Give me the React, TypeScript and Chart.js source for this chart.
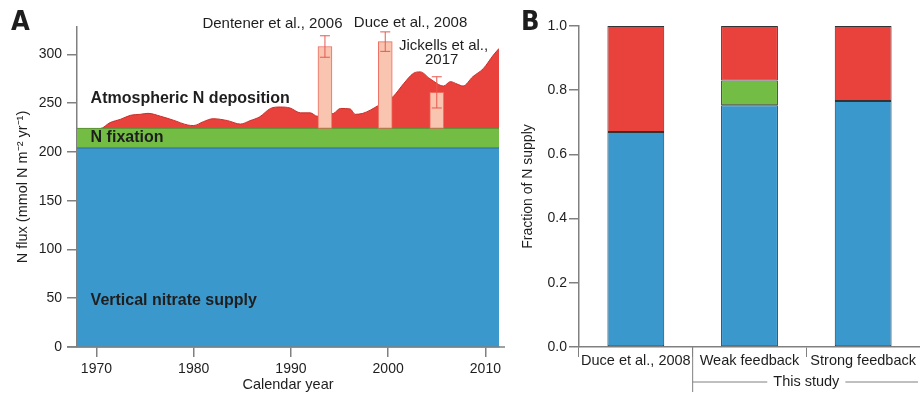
import React, { useEffect, useRef } from 'react';
import { Chart, registerables } from 'chart.js';
Chart.register(...registerables);

const FONT = '"Liberation Sans", Arial, Helvetica, sans-serif';
const LETTER_FONT = '"Liberation Sans Narrow", "DejaVu Sans Condensed", "Liberation Sans", sans-serif';

// ---------- Panel A data ----------
const deposYears = [1968, 1970.4, 1971.4, 1972.5, 1973.5, 1974.5, 1975.3, 1976.6, 1977.9, 1979.4,
  1980, 1981, 1982, 1983.5, 1984.8, 1985.8, 1986.8, 1987.9, 1988.9, 1989.9,
  1991, 1992, 1992.7, 1993.5, 1994.4, 1995.1, 1996.1, 1996.6, 1997.4, 1998.2,
  1998.9, 1999.7, 2000.5, 2001.6, 2002.6, 2003.3, 2004.3, 2005.7, 2006.4, 2007.1,
  2007.7, 2008.7, 2009.8, 2010.8, 2011.4];
const deposFlux = [224, 224, 230, 233.5, 237.5, 238.5, 239.5, 236.5, 232.5, 227.5,
  227, 231, 234, 232, 228.5, 232, 236, 244.5, 246, 245,
  240, 240, 236.5, 238, 239.5, 244.5, 244, 238.5, 239.5, 243,
  247, 251, 256.5, 270, 280.5, 282, 275, 267.5, 272, 269.5,
  267.5, 277, 285.5, 299, 306];
const baseYears = [1968, 2011.4];
const verticalSupply = [204, 204];
const fixationTop = [224, 224];
const estimateLabels = ['Dentener et al., 2006', 'Duce et al., 2008', 'Jickells et al., 2017'];
const estimateYears = [1993.5, 1999.7, 2005.0];
const estimateFlux = [308, 313, 261];
const estimateErr = [11, 10, 16];
const xTickStepA = 10;
const yTickStepA = 50;

// ---------- Panel B data ----------
const supplyCategories = ['Duce et al., 2008', 'Weak feedback', 'Strong feedback'];
const fracVertical = [0.67, 0.753, 0.766];
const fracFixation = [0, 0.077, 0];
const fracAtmos = [0.33, 0.17, 0.234];
const yTickStepB = 0.2;

const BLUE = '#3b98cd';
const GREEN = '#73bd44';
const RED = '#e9413c';
const PINK = '#f9c5b1';
const AXIS = '#808080';
const TEXT = '#1e1e1e';

export default function App() {
  const refA = useRef<HTMLCanvasElement>(null);
  const refB = useRef<HTMLCanvasElement>(null);

  useEffect(() => {
    document.body.style.margin = '0';
    Chart.defaults.font.family = FONT;
    Chart.defaults.color = TEXT;

    const pluginA = {
      id: 'annotA',
      afterDraw(chart: any) {
        const { ctx, chartArea } = chart;
        const xs = chart.scales.x;
        const ys = chart.scales.y;
        ctx.save();
        // extend x axis line
        ctx.strokeStyle = AXIS;
        ctx.lineWidth = 1.5;
        ctx.beginPath();
        ctx.moveTo(chartArea.left - 10, chartArea.bottom);
        ctx.lineTo(chartArea.right + 6, chartArea.bottom);
        ctx.stroke();
        // error bars
        ctx.strokeStyle = '#e8574d';
        ctx.lineWidth = 1;
        estimateYears.forEach((yr, i) => {
          const x = xs.getPixelForValue(yr);
          const y1 = ys.getPixelForValue(estimateFlux[i] + estimateErr[i]);
          const y2 = ys.getPixelForValue(estimateFlux[i] - estimateErr[i]);
          ctx.beginPath();
          ctx.moveTo(x, y1); ctx.lineTo(x, y2);
          ctx.moveTo(x - 5, y1); ctx.lineTo(x + 5, y1);
          ctx.moveTo(x - 5, y2); ctx.lineTo(x + 5, y2);
          ctx.stroke();
        });
        // estimate labels
        ctx.fillStyle = TEXT;
        ctx.font = '15px ' + FONT;
        ctx.textAlign = 'center';
        ctx.textBaseline = 'middle';
        ctx.fillText(estimateLabels[0], xs.getPixelForValue(1988.1), ys.getPixelForValue(331));
        ctx.fillText(estimateLabels[1], xs.getPixelForValue(2002.3), ys.getPixelForValue(332));
        const jk = estimateLabels[2].split(', ');
        ctx.fillText(jk[0] + ',', xs.getPixelForValue(2005.7), ys.getPixelForValue(309));
        ctx.fillText(jk[1], xs.getPixelForValue(2005.5), ys.getPixelForValue(294));
        // component labels
        ctx.font = 'bold 16px ' + FONT;
        ctx.textAlign = 'left';
        const lx = xs.getPixelForValue(1969.4);
        ctx.fillText('Atmospheric N deposition', lx, ys.getPixelForValue(255));
        ctx.fillText('N fixation', lx, ys.getPixelForValue(215));
        ctx.fillText('Vertical nitrate supply', lx, ys.getPixelForValue(48));
        // panel letter
        ctx.font = 'bold 27px ' + LETTER_FONT;
        ctx.fillText('A', 11, 23);
        ctx.restore();
      },
    };

    const a = new Chart(refA.current!, {
      type: 'line',
      data: {
        datasets: [
          {
            type: 'bar',
            label: 'Estimates',
            data: estimateYears.map((x, i) => ({ x, y: [fixationTop[0], estimateFlux[i]] })) as any,
            backgroundColor: PINK,
            borderColor: '#ec6a5e',
            borderWidth: 1,
            borderSkipped: false,
            barThickness: 14,
            order: 0,
          } as any,
          {
            label: 'Vertical nitrate supply',
            data: baseYears.map((x, i) => ({ x, y: verticalSupply[i] })),
            backgroundColor: BLUE,
            borderColor: '#2c6f99',
            borderWidth: 1,
            fill: 'origin',
            pointRadius: 0,
            order: 1,
          },
          {
            label: 'N fixation',
            data: baseYears.map((x, i) => ({ x, y: fixationTop[i] })),
            backgroundColor: GREEN,
            borderColor: '#5a9a36',
            borderWidth: 1,
            fill: 'origin',
            pointRadius: 0,
            order: 2,
          },
          {
            label: 'Atmospheric N deposition',
            data: deposYears.map((x, i) => ({ x, y: deposFlux[i] })),
            backgroundColor: RED,
            borderColor: '#c9302a',
            borderWidth: 1,
            fill: 'origin',
            pointRadius: 0,
            cubicInterpolationMode: 'monotone',
            order: 3,
          },
        ],
      },
      options: {
        animation: false,
        responsive: false,
        layout: { padding: { left: 10, top: 27, right: 21, bottom: 0 } },
        plugins: { legend: { display: false }, tooltip: { enabled: false } },
        scales: {
          x: {
            type: 'linear',
            min: baseYears[0],
            max: baseYears[baseYears.length - 1],
            offset: false,
            border: { color: AXIS, width: 1.5 },
            grid: { display: true, drawOnChartArea: false, drawTicks: true, tickLength: 10, color: AXIS, lineWidth: 1.5, offset: false },
            ticks: { stepSize: xTickStepA, includeBounds: false, callback: (v: any) => String(v), color: TEXT, font: { size: 14 }, padding: 4, maxRotation: 0, autoSkip: false },
            title: { display: true, text: 'Calendar year', color: TEXT, font: { size: 14.5 }, padding: { top: 0, bottom: 0 } },
            afterFit: (s: any) => { s.height = 47; },
          } as any,
          y: {
            type: 'linear',
            min: 0,
            max: 328,
            border: { color: AXIS, width: 1.5 },
            grid: { display: true, drawOnChartArea: false, drawTicks: true, tickLength: 10, color: AXIS, lineWidth: 1.5 },
            ticks: { stepSize: yTickStepA, includeBounds: false, color: TEXT, font: { size: 14 }, padding: 5 },
            title: { display: true, text: 'N flux (mmol N m⁻² yr⁻¹)', color: TEXT, font: { size: 14.5 }, padding: { top: 4, bottom: 0 } },
            afterFit: (s: any) => { s.width = 67; },
          } as any,
        },
      },
      plugins: [pluginA],
    });

    const pluginB = {
      id: 'annotB',
      afterDraw(chart: any) {
        const { ctx, chartArea } = chart;
        const xs = chart.scales.x;
        ctx.save();
        const c0 = xs.getPixelForValue(0);
        const c1 = xs.getPixelForValue(1);
        const c2 = xs.getPixelForValue(2);
        const b01 = (c0 + c1) / 2;
        const b12 = (c1 + c2) / 2;
        ctx.strokeStyle = AXIS;
        ctx.lineWidth = 1;
        ctx.beginPath();
        ctx.moveTo(b01, chartArea.bottom);
        ctx.lineTo(b01, chartArea.bottom + 45);
        ctx.stroke();
        ctx.fillStyle = TEXT;
        ctx.font = '14.5px ' + FONT;
        ctx.textAlign = 'center';
        ctx.textBaseline = 'middle';
        const ty = chartArea.bottom + 35;
        const label = 'This study';
        const w = ctx.measureText(label).width;
        ctx.fillText(label, b12, ty);
        ctx.beginPath();
        ctx.moveTo(b01, ty);
        ctx.lineTo(b12 - w / 2 - 6, ty);
        ctx.moveTo(b12 + w / 2 + 6, ty);
        ctx.lineTo(chartArea.right - 2, ty);
        ctx.stroke();
        ctx.font = 'bold 27px ' + LETTER_FONT;
        ctx.textAlign = 'left';
        ctx.fillText('B', 1, 23);
        ctx.restore();
      },
    };

    const barCommon = { borderColor: '#333333', borderWidth: 1, borderSkipped: false, barPercentage: 0.5, categoryPercentage: 1.0 };
    const b = new Chart(refB.current!, {
      type: 'bar',
      data: {
        labels: supplyCategories,
        datasets: [
          { label: 'Vertical nitrate supply', data: fracVertical, backgroundColor: BLUE, ...barCommon } as any,
          { label: 'N fixation', data: fracFixation, backgroundColor: GREEN, ...barCommon } as any,
          { label: 'Atmospheric N deposition', data: fracAtmos, backgroundColor: RED, ...barCommon } as any,
        ],
      },
      options: {
        animation: false,
        responsive: false,
        layout: { padding: { left: 0, top: 26, right: 0, bottom: 0 } },
        plugins: { legend: { display: false }, tooltip: { enabled: false } },
        scales: {
          x: {
            stacked: true,
            offset: true,
            border: { color: AXIS, width: 1.5 },
            grid: { display: true, offset: true, drawOnChartArea: false, drawTicks: true, tickLength: 10, color: AXIS, lineWidth: 1 },
            ticks: { color: TEXT, font: { size: 14.5 }, padding: -5, maxRotation: 0, autoSkip: false },
            afterFit: (s: any) => { s.height = 47; },
          } as any,
          y: {
            stacked: true,
            min: 0,
            max: 1,
            border: { color: AXIS, width: 1.5 },
            grid: { display: true, drawOnChartArea: false, drawTicks: true, tickLength: 10, color: AXIS, lineWidth: 1.5 },
            ticks: { stepSize: yTickStepB, color: TEXT, font: { size: 14 }, padding: 2, callback: (v: any) => Number(v).toFixed(1) },
            title: { display: true, text: 'Fraction of N supply', color: TEXT, font: { size: 14 }, padding: { top: 0, bottom: 0 } },
            afterFit: (s: any) => { s.width = 59; },
          } as any,
        },
      },
      plugins: [pluginB],
    });

    return () => { a.destroy(); b.destroy(); };
  }, []);

  return (
    <div style={{ position: 'relative', width: 920, height: 394, background: '#fff' }}>
      <canvas ref={refA} width={520} height={394} style={{ position: 'absolute', left: 0, top: 0, width: 520, height: 394 }} />
      <canvas ref={refB} width={400} height={394} style={{ position: 'absolute', left: 520, top: 0, width: 400, height: 394 }} />
    </div>
  );
}
